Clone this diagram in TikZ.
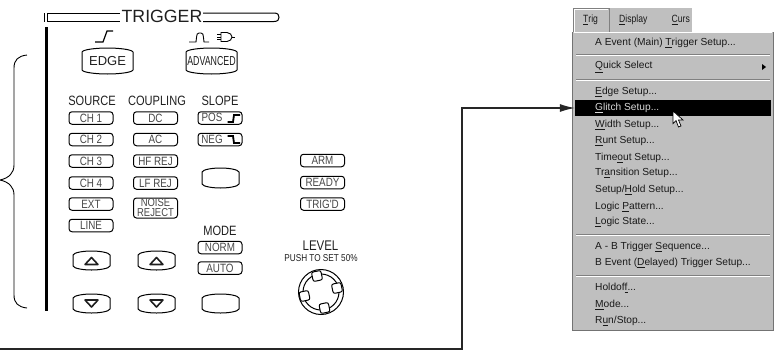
\documentclass[tikz,border=0pt]{standalone}
\usepackage{fontspec}
\setmainfont{Liberation Sans}
\newfontfamily\narrowfont[FakeStretch=0.82]{Liberation Sans}
\newfontfamily\tightfont[FakeStretch=0.68]{Liberation Sans}
\usetikzlibrary{arrows.meta}
\definecolor{panelink}{gray}{0.12}
\definecolor{btnink}{gray}{0.28}
\definecolor{menubg}{gray}{0.75}
\definecolor{menuedge}{gray}{0.45}
\definecolor{menutext}{gray}{0.1}
\newcommand{\mn}[1]{\underline{#1}}
\tikzset{
  x=1pt,y=-1pt,
  inkline/.style={draw=black,line width=1},
  smallbtn/.style={draw=black,line width=1,rounded corners=3,minimum width=44,minimum height=12.5,inner sep=0,
     font=\narrowfont\fontsize{12}{11}\selectfont,text=btnink},
  paneltext/.style={inner sep=0,font=\narrowfont\fontsize{13.5}{13.5}\selectfont,text=panelink},
  bigtext/.style={inner sep=0,font=\fontsize{13}{13}\selectfont,text=panelink},
  menuitem/.style={anchor=west,inner sep=0,font=\fontsize{10.2}{12}\selectfont,text=menutext},
  sepdark/.style={draw=gray,line width=0.8},
  seplight/.style={draw=white,line width=0.8},
  knobkey/.style={draw=black,fill=white,line width=1,rounded corners=2,minimum size=9.5,inner sep=0},
  arrowtri/.style={draw=panelink,line width=1.6,line join=round},
  connector/.style={draw=black!85,line width=1.1},
}
\newcommand{\bigbtn}[6]{%
  \begin{scope}[shift={(#2,#3)}]
    \pgfmathsetmacro{\hw}{#4/2}\pgfmathsetmacro{\hh}{#5/2}
    \draw[inkline] (-\hw,-\hh+4) .. controls (-\hw+1,-\hh+1.5) and (-\hw*0.45,-\hh) .. (0,-\hh)
      .. controls (\hw*0.45,-\hh) and (\hw-1,-\hh+1.5) .. (\hw,-\hh+4) -- (\hw,\hh-4)
      .. controls (\hw-1,\hh-1.5) and (\hw*0.45,\hh) .. (0,\hh)
      .. controls (-\hw*0.45,\hh) and (-\hw+1,\hh-1.5) .. (-\hw,\hh-4) -- cycle;
    \node[bigtext] (#1) at (0,0) {#6};
  \end{scope}}
\begin{document}
\begin{tikzpicture}
\useasboundingbox (0,0) rectangle (777,354);
% title
\node[inner sep=0,font=\fontsize{17.7}{18}\selectfont,text=panelink] (title) at (162,16.5) {TRIGGER};
\draw[inkline] (44.5,13) -- (44.5,22);
\draw[inkline] (120,13) -- (47,13) -- (47,21.5) -- (120,21.5);
\draw[inkline] (203,13) -- (274,13) .. controls (278,13) and (279,15) .. (279,17.2) .. controls (279,19.5) and (278,21.5) .. (274,21.5) -- (203,21.5);
\draw[black,line width=3] (46,27) -- (46,311);
% brace
\draw[draw=black,line width=0.9] (27,55) .. controls (18,56) and (14,60) .. (14,68) -- (14,165)
  .. controls (14,173) and (9,178) .. (0,180) .. controls (9,182) and (14,187) .. (14,195) -- (14,295)
  .. controls (14,303) and (18,307) .. (27,308);
% top icons
\draw[draw=black,line width=1.2] (95,42) -- (103,42) -- (107,31) -- (113,31);
\draw[draw=black,line width=0.9] (189,42) -- (196,42) .. controls (197,33) and (197,33) .. (199,33) -- (201,33) .. controls (203,33) and (203,33) .. (204,42) -- (209,42);
\draw[draw=black,line width=0.9] (221,32.5) -- (227,32.5) .. controls (230,32.5) and (232,35) .. (232,37) .. controls (232,39) and (230,41.5) .. (227,41.5) -- (221,41.5) -- cycle;
\draw[draw=black,line width=0.8] (232,37) -- (235,37) (217,34.5) -- (221,34.5) (217,37) -- (221,37) (217,39.5) -- (221,39.5);
\bigbtn{edge}{107.5}{61}{51}{26}{EDGE}
\bigbtn{advanced}{211.5}{61}{51}{26}{\tightfont\fontsize{13}{13}\selectfont ADVANCED}
% column labels
\node[paneltext] (lsource) at (92,101) {SOURCE};
\node[paneltext] (lcoupling) at (157,101) {COUPLING};
\node[paneltext] (lslope) at (220,101) {SLOPE};
\node[paneltext] (lmode) at (220,231) {MODE};
% source
\node[smallbtn] (ch1) at (91,118) {CH 1};
\node[smallbtn] (ch2) at (91,139.5) {CH 2};
\node[smallbtn] (ch3) at (91,161) {CH 3};
\node[smallbtn] (ch4) at (91,183) {CH 4};
\node[smallbtn] (ext) at (91,204) {EXT};
\node[smallbtn] (line) at (91,225.5) {LINE};
% coupling
\node[smallbtn] (dc) at (155.5,118) {DC};
\node[smallbtn] (ac) at (155.5,139.5) {AC};
\node[smallbtn] (hf) at (155.5,161) {HF REJ};
\node[smallbtn] (lf) at (155.5,183) {LF REJ};
\node[smallbtn,minimum height=20,align=center,font=\narrowfont\fontsize{11.5}{10}\selectfont] (noise) at (155.5,208) {NOISE\\REJECT};
% slope
\node[smallbtn] (pos) at (220,118) {};
\node[inner sep=0,font=\narrowfont\fontsize{12}{11}\selectfont,text=btnink] (postext) at (212,117.5) {POS};
\draw[draw=black,line width=1.8] (227.5,122) -- (233,122) -- (234,115) -- (240,115);
\node[smallbtn] (neg) at (220,139.5) {};
\node[inner sep=0,font=\narrowfont\fontsize{12}{11}\selectfont,text=btnink] (negtext) at (212,139.5) {NEG};
\draw[draw=black,line width=1.8] (227.5,136) -- (233,136) -- (234,143) -- (240,143);
\bigbtn{blankslope}{220.5}{178}{37}{20}{}
% mode
\node[smallbtn] (norm) at (220,247.5) {NORM};
\node[smallbtn] (auto) at (220,268) {AUTO};
% arrows
\bigbtn{srcup}{91.5}{260.5}{37}{19}{}
\bigbtn{cplup}{156.5}{260.5}{37}{19}{}
\bigbtn{srcdn}{91.5}{303.5}{37}{19}{}
\bigbtn{cpldn}{156.5}{303.5}{37}{19}{}
\bigbtn{blankmode}{220.5}{303.5}{37}{19}{}
\draw[arrowtri] (85,264.5) -- (98,264.5) -- (91.5,257.5) -- cycle;
\draw[arrowtri] (150,264.5) -- (163,264.5) -- (156.5,257.5) -- cycle;
\draw[arrowtri] (85,300) -- (98,300) -- (91.5,307) -- cycle;
\draw[arrowtri] (150,300) -- (163,300) -- (156.5,307) -- cycle;
% status
\node[smallbtn] (arm) at (322.5,160.5) {ARM};
\node[smallbtn] (ready) at (322.5,182.5) {READY};
\node[smallbtn] (trigd) at (322.5,204) {TRIG'D};
% level
\node[inner sep=0,font=\narrowfont\fontsize{14}{14}\selectfont,text=panelink] (level) at (320.5,246) {LEVEL};
\node[inner sep=0,font=\narrowfont\fontsize{10}{10}\selectfont,text=panelink] (push) at (321,258.5) {PUSH TO SET 50\%};
\node[draw=black,line width=1,circle,minimum size=45,inner sep=0] (knobo) at (321,292) {};
\node[draw=black,line width=1,circle,minimum size=36,inner sep=0] (knobi) at (321,292) {};
\node[knobkey,rotate=12] (k1) at (317,276) {};
\node[knobkey,rotate=12] (k2) at (337,288) {};
\node[knobkey,rotate=12] (k3) at (324.5,308) {};
\node[knobkey,rotate=12] (k4) at (304.5,296) {};
% menu bar
\fill[menubg] (573,8) rectangle (692,32);
\draw[draw=gray,line width=0.8] (573.5,32) -- (573.5,8.5) -- (609,8.5) -- (609,32);
\draw[draw=white,line width=0.6] (574.5,32) -- (574.5,9.5) -- (608,9.5);
\node[menuitem,font=\narrowfont\fontsize{10.5}{12}\selectfont] (mtrig) at (583,20) {\mn{T}rig};
\node[menuitem,font=\narrowfont\fontsize{10.5}{12}\selectfont] (mdisp) at (619,20) {\mn{D}isplay};
\node[menuitem,font=\narrowfont\fontsize{10.5}{12}\selectfont] (mcurs) at (671.5,20) {\mn{C}urs};
% menu
\fill[menubg] (573,32) rectangle (772.5,330);
\draw[draw=menuedge,line width=1] (572.5,32) -- (572.5,330.5) -- (773,330.5) -- (773,32);
\draw[draw=white,line width=0.8] (573.5,32.5) -- (772,32.5);
\foreach \yy in {54,79,234,275} {
  \draw[sepdark] (576,\yy) -- (770,\yy);
  \draw[seplight] (576,\yy+0.9) -- (770,\yy+0.9);
}
\node[menuitem] (i1) at (595,43) {A Event (Main) \mn{T}rigger Setup...};
\node[menuitem] (i2) at (595,67) {\mn{Q}uick Select};
\fill[black] (762,64) -- (766,67) -- (762,70) -- cycle;
\node[menuitem] (i3) at (595,92) {\mn{E}dge Setup...};
\node[draw=none,fill=black,minimum width=196,minimum height=16,inner sep=0] (glitch) at (673,108) {};
\node[menuitem,text=black!15] (i4) at (595,108) {\mn{G}litch Setup...};
\node[menuitem] (i5) at (595,125) {\mn{W}idth Setup...};
\node[menuitem] (i6) at (595,141) {\mn{R}unt Setup...};
\node[menuitem] (i7) at (595,158) {Time\mn{o}ut Setup...};
\node[menuitem] (i8) at (595,173) {Tr\mn{a}nsition Setup...};
\node[menuitem] (i9) at (595,190) {Setup/\mn{H}old Setup...};
\node[menuitem] (i10) at (595,207) {Logic \mn{P}attern...};
\node[menuitem] (i11) at (595,222) {\mn{L}ogic State...};
\node[menuitem] (i12) at (595,247) {A - B Trigger \mn{S}equence...};
\node[menuitem] (i13) at (595,263) {B Event (\mn{D}elayed) Trigger Setup...};
\node[menuitem] (i14) at (595,288) {Holdof\mn{f}...};
\node[menuitem] (i15) at (595,305) {\mn{M}ode...};
\node[menuitem] (i16) at (595,321) {R\mn{u}n/Stop...};
% cursor
\draw[draw=black,fill=white,line width=0.7,line join=miter] (673,111) -- (673,123.5) -- (676,120.5) -- (678.5,127) -- (681,126) -- (678.5,120) -- (683,120) -- cycle;
% connector
\coordinate (cstart) at (0,349);
\coordinate (cbend) at (462,349);
\coordinate (cup) at (462,108);
\draw[connector,-{Latex[length=15,width=8]}] (cstart) -- (cbend) -- (cup) -- (glitch.west);
\end{tikzpicture}
\end{document}
